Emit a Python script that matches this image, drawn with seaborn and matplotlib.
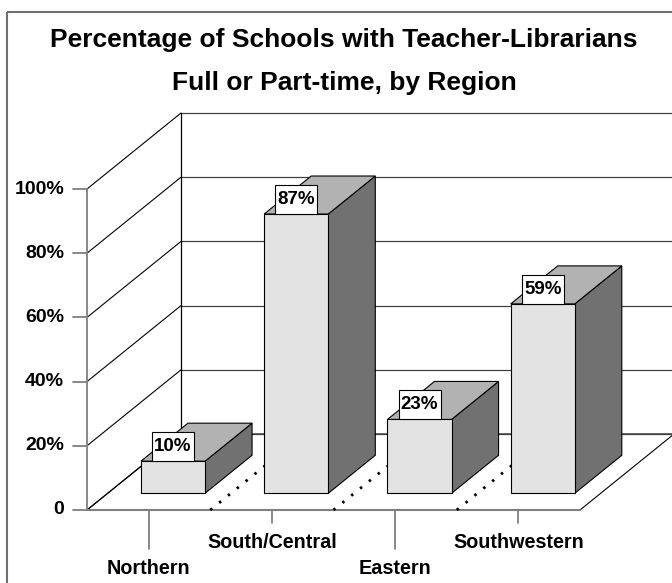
import matplotlib
matplotlib.use("Agg")
import matplotlib.pyplot as plt
from matplotlib.patches import Polygon, Rectangle
import seaborn as sns

# data
regions = ["Northern", "South/Central", "Eastern", "Southwestern"]
pct_with_tl = [10, 87, 23, 59]
y_ticks = [0, 20, 40, 60, 80, 100]
y_tick_labels = ["0", "20%", "40%", "60%", "80%", "100%"]
title_lines = ["Percentage of Schools with Teacher-Librarians",
               "Full or Part-time, by Region"]

sns.set_theme(style="white")
plt.rcParams["font.family"] = ["Liberation Sans", "DejaVu Sans"]
plt.rcParams["font.weight"] = "bold"

# fake 3d box, in pixel units of the figure
ORIGIN = (87, 510)    # front-left corner of the floor
CAT_W = 123.25        # one category along the floor
DEPTH = (94, -76)     # floor front edge -> back wall
PX_PER_PCT = 3.21
BAR_X = (0.27, 0.79)  # bar span inside a category
BAR_D = (0.22, 0.72)  # bar span in depth
LBL_W, LBL_H = 42, 29  # value label box, px

front_col, top_col, side_col = "#e3e3e3", "#b2b2b2", "#717171"
axis_col = "#7f7f7f"


def proj(c, d, v):
    x = ORIGIN[0] + c * CAT_W + d * DEPTH[0]
    y = ORIGIN[1] + d * DEPTH[1] - v * PX_PER_PCT
    return (x, y)


def seg(ax, p, q, **kw):
    ax.plot([p[0], q[0]], [p[1], q[1]], **kw)


fig = plt.figure(figsize=(6.72, 5.83), dpi=100)
ax = fig.add_axes([0, 0, 1, 1])
ax.set_xlim(0, 672)
ax.set_ylim(583, 0)
ax.axis("off")

n = len(regions)

# floor
floor = Polygon([proj(0, 0, 0), proj(n, 0, 0), proj(n, 1, 0), proj(0, 1, 0)],
                closed=True, facecolor="white", edgecolor="black", lw=0.8, zorder=1)
ax.add_patch(floor)

# walls: diagonal grid on the left side, horizontal on the back
for v in y_ticks:
    seg(ax, proj(0, 0, v), proj(0, 1, v), color="black", lw=0.8, zorder=1)
    seg(ax, proj(0, 1, v), proj(n, 1, v), color="#404040", lw=0.9, zorder=1)
seg(ax, proj(0, 1, 0), proj(0, 1, y_ticks[-1]), color="black", lw=0.9, zorder=1)

# value axis on the front-left edge
seg(ax, proj(0, 0, 0), proj(0, 0, y_ticks[-1]), color=axis_col, lw=1.3, zorder=2)
for v, lab in zip(y_ticks, y_tick_labels):
    x, y = proj(0, 0, v)
    ax.plot([x - 14, x], [y, y], color=axis_col, lw=1.3, zorder=2)
    ax.text(x - 23, y, lab, ha="right", va="center", fontsize=14,
            fontweight="bold", color="black")

# category axis on the floor front edge
seg(ax, proj(0, 0, 0), proj(n, 0, 0), color=axis_col, lw=1.5, zorder=2)
for i, name in enumerate(regions):
    x, y = proj(i + 0.5, 0, 0)
    low = (i % 2 == 0)
    ax.plot([x, x], [y, y + (39 if low else 13)], color=axis_col, lw=1.3, zorder=2)
    ax.text(x, y + (58 if low else 32), name, ha="center", va="center",
            fontsize=14.2, fontweight="bold", color="black")

# dotted category separators across the floor
for i in range(1, n):
    p, q = proj(i, 0, 0), proj(i, 1, 0)
    ax.plot([p[0], q[0]], [p[1], q[1]], color="black", lw=2.0,
            linestyle=(0, (0.9, 3.2)), zorder=2)

# the bars
for i, val in enumerate(pct_with_tl):
    x0, x1 = i + BAR_X[0], i + BAR_X[1]
    d0, d1 = BAR_D
    front = [proj(x0, d0, 0), proj(x1, d0, 0), proj(x1, d0, val), proj(x0, d0, val)]
    top = [proj(x0, d0, val), proj(x1, d0, val), proj(x1, d1, val), proj(x0, d1, val)]
    side = [proj(x1, d0, 0), proj(x1, d1, 0), proj(x1, d1, val), proj(x1, d0, val)]
    for pts, col in [(side, side_col), (top, top_col), (front, front_col)]:
        ax.add_patch(Polygon(pts, closed=True, facecolor=col, edgecolor="black",
                             lw=0.8, zorder=3))
    xc, ytop = proj((x0 + x1) / 2, d0, val)
    ax.add_patch(Rectangle((xc - LBL_W / 2, ytop - LBL_H), LBL_W, LBL_H,
                           facecolor="white", edgecolor="black", lw=0.8, zorder=4))
    ax.text(xc, ytop - LBL_H / 2, f"{val}%", ha="center", va="center",
            fontsize=13.5, fontweight="bold", color="black", zorder=5)

# title
ax.text(344, 40, title_lines[0], ha="center", va="center", fontsize=19,
        fontweight="bold", color="black")
ax.text(344, 83, title_lines[1], ha="center", va="center", fontsize=19,
        fontweight="bold", color="black")

# chart area frame (right and bottom edges fall outside the image)
ax.add_patch(Rectangle((7, 12), 700, 600, fill=False, edgecolor="#6f6f6f",
                       lw=1.5, zorder=6))

fig.savefig("out.png", dpi=100)
